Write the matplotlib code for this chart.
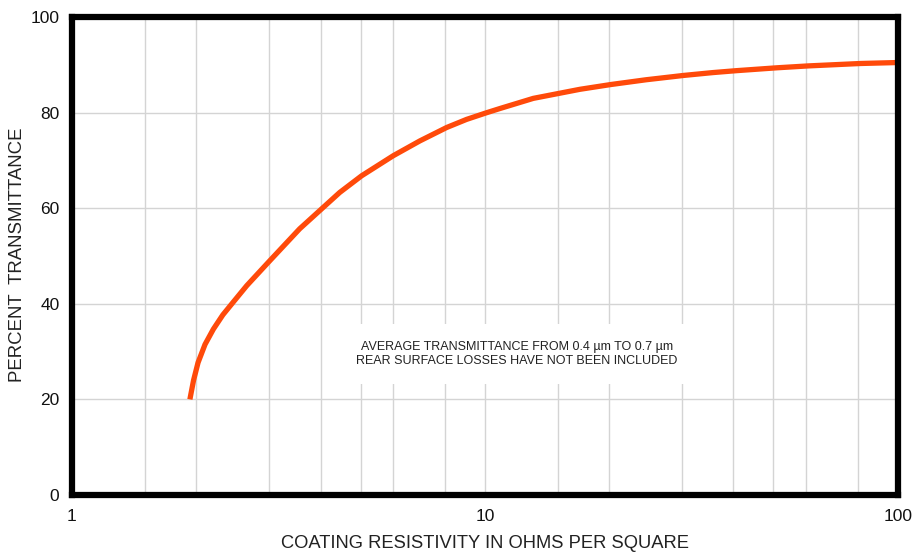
import matplotlib.pyplot as plt
import numpy as np

# curve (resistivity in ohms/sq, transmittance in %)
resistivity = [1.93, 1.97, 2.02, 2.10, 2.20, 2.32, 2.46, 2.65, 2.99, 3.19, 3.56, 3.98,
               4.45, 5.03, 6.0, 6.96, 8.08, 9.03, 10.1, 10.9, 13.1, 17.0, 20.2, 24.6,
               30.3, 35.7, 40.7, 51.0, 60.9, 68.4, 81.3, 100.0]
transmittance = [20.0, 24.0, 27.7, 31.5, 34.7, 37.7, 40.4, 43.8, 48.7, 51.3, 55.7, 59.5,
                 63.3, 66.8, 71.0, 74.1, 76.9, 78.6, 80.0, 80.9, 83.0, 84.9, 85.9, 86.9,
                 87.8, 88.4, 88.8, 89.4, 89.8, 90.0, 90.3, 90.5]

x_grid = [1.5, 2, 3, 4, 5, 6, 8, 10, 15, 20, 30, 40, 50, 60, 80]
y_ticks = [0, 20, 40, 60, 80, 100]
x_ticks = [1, 10, 100]

plt.rcParams['font.family'] = ['Liberation Sans', 'DejaVu Sans']

fig = plt.figure(figsize=(9.17, 5.53), dpi=100)
ax = fig.add_axes([0.0785, 0.105, 0.9005, 0.864])

ax.set_xscale('log')
ax.set_xlim(1, 100)
ax.set_ylim(0, 100)

for gx in x_grid:
    ax.axvline(gx, color='#d4d4d4', lw=1.0, zorder=1)
for gy in y_ticks[1:-1]:
    ax.axhline(gy, color='#d4d4d4', lw=1.0, zorder=1)

ax.plot(resistivity, transmittance, color='#ff4a0a', lw=3.8,
        solid_capstyle='butt', solid_joinstyle='round', zorder=3)

ax.set_xticks(x_ticks)
ax.set_xticklabels(['1', '10', '100'])
ax.xaxis.set_minor_locator(plt.NullLocator())
ax.set_yticks(y_ticks)
ax.tick_params(axis='both', length=0, labelsize=12.5, colors='#111111')
ax.tick_params(axis='x', pad=10)
ax.tick_params(axis='y', pad=9)

for sp in ax.spines.values():
    sp.set_linewidth(4.5)
    sp.set_color('black')
    sp.set_zorder(5)

ax.set_xlabel('COATING RESISTIVITY IN OHMS PER SQUARE', fontsize=13.2, color='#222222')
ax.xaxis.set_label_coords(0.5006, -0.083)
ax.set_ylabel('PERCENT  TRANSMITTANCE', fontsize=13.4, color='#222222')
ax.yaxis.set_label_coords(-0.0557, 0.502)

note = 'AVERAGE TRANSMITTANCE FROM 0.4 \u00b5m TO 0.7 \u00b5m\nREAR SURFACE LOSSES HAVE NOT BEEN INCLUDED'
ax.text(0.539, 0.295, note, transform=ax.transAxes, ha='center', va='center',
        fontsize=9, color='#222222', linespacing=1.25,
        bbox=dict(facecolor='white', edgecolor='none', pad=12), zorder=2)

plt.savefig('out.png', dpi=100)
